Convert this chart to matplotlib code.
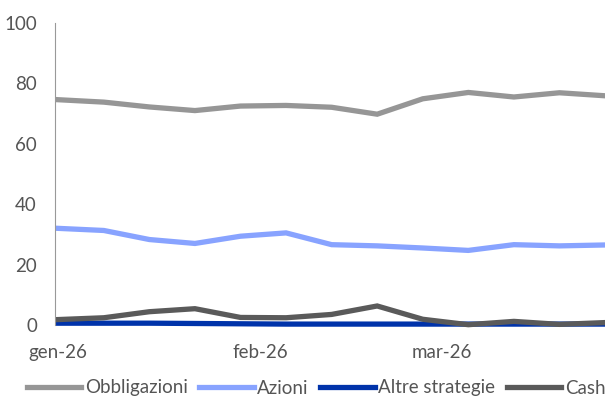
import matplotlib
matplotlib.use('Agg')
import matplotlib.pyplot as plt
import matplotlib.dates as mdates
import numpy as np

dates = np.arange('2026-01-01', '2026-03-27', 7, dtype='datetime64[D]')
obbligazioni = [74.6, 73.8, 72.2, 71.0, 72.5, 72.7, 72.1, 69.8, 74.9, 77.0, 75.5, 76.9, 75.9]
azioni = [32.0, 31.3, 28.3, 27.0, 29.4, 30.5, 26.6, 26.2, 25.5, 24.7, 26.6, 26.2, 26.5]
altre = [0.6, 0.6, 0.6, 0.5, 0.4, 0.3, 0.3, 0.3, 0.3, 0.3, 0.3, 0.3, 0.3]
cash = [1.8, 2.4, 4.4, 5.4, 2.5, 2.4, 3.5, 6.3, 1.9, 0.1, 1.2, 0.2, 0.8]

series = [
    ('Obbligazioni', obbligazioni, '#969696'),
    ('Azioni', azioni, '#88a3ff'),
    ('Altre strategie', altre, '#0033aa'),
    ('Cash', cash, '#5a5a5a'),
]

plt.rcParams['font.family'] = ['Lato', 'DejaVu Sans']
txt = '#555555'
fs = 13.5

fig = plt.figure(figsize=(6.05, 3.98), dpi=100)
ax = fig.add_axes([55 / 605, 73 / 398, 550 / 605, 302 / 398])

lines = []
for name, vals, col in series:
    l, = ax.plot(dates, vals, color=col, lw=3.8, solid_joinstyle='miter', clip_on=False, label=name)
    lines.append(l)

ax.set_ylim(0, 100)
ax.set_yticks([0, 20, 40, 60, 80, 100])
ax.set_xlim(np.datetime64('2026-01-01') - np.timedelta64(12, 'h'), np.datetime64('2026-03-26'))
ax.xaxis.set_major_locator(mdates.MonthLocator())
ax.xaxis.set_major_formatter(plt.FixedFormatter(['gen-26', 'feb-26', 'mar-26']))

for s in ['top', 'right', 'bottom']:
    ax.spines[s].set_visible(False)
ax.spines['left'].set_color('#999999')
ax.spines['left'].set_linewidth(0.8)
ax.tick_params(axis='y', length=0, pad=13, labelsize=fs, labelcolor=txt)
ax.tick_params(axis='x', length=0, pad=14, labelsize=fs, labelcolor=txt)

fig.legend(handles=lines, loc='center left', bbox_to_anchor=(27 / 605, 1 - 388 / 398), ncol=4,
           frameon=False, fontsize=fs, labelcolor=txt, handlelength=2.9, handletextpad=0.2,
           columnspacing=0.6, borderaxespad=0, borderpad=0)

fig.savefig('out.png', dpi=100)
